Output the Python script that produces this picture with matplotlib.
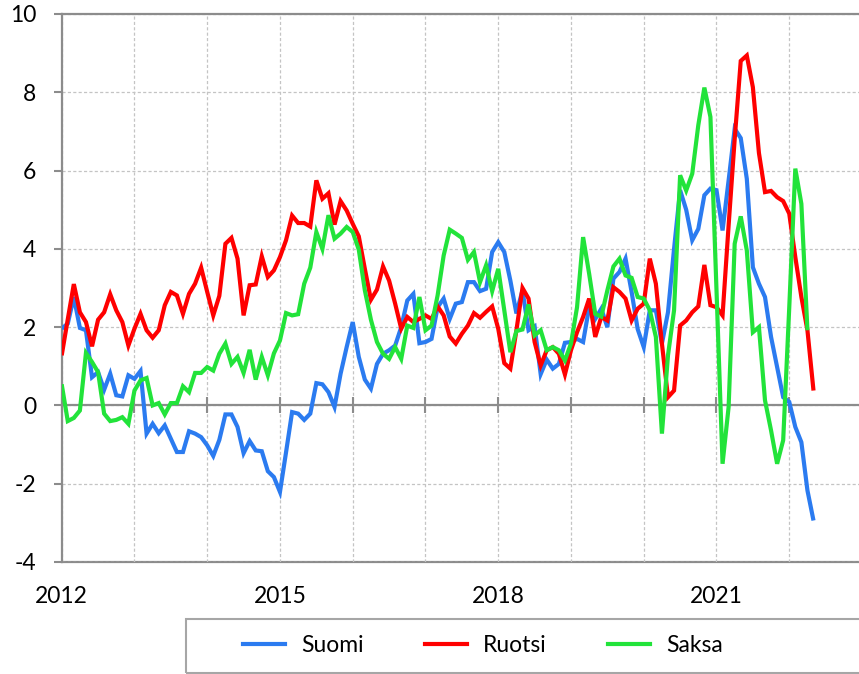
import numpy as np
import matplotlib
matplotlib.use("Agg")
import matplotlib.pyplot as plt
from matplotlib.patches import Rectangle
from matplotlib.lines import Line2D

plt.rcParams['font.family'] = ['Lato', 'DejaVu Sans']
plt.rcParams['axes.unicode_minus'] = False

# Monthly data, starting January 2012
start_year = 2012
suomi = [1.96, 2.09, 2.77, 1.98, 1.92, 0.72, 0.85, 0.40, 0.81, 0.26, 0.23, 0.77,
         0.68, 0.88, -0.72, -0.47, -0.71, -0.51, -0.85, -1.19, -1.19, -0.66, -0.72, -0.81,
         -1.02, -1.29, -0.88, -0.23, -0.23, -0.55, -1.22, -0.91, -1.15, -1.17, -1.68, -1.83,
         -2.21, -1.20, -0.17, -0.21, -0.37, -0.21, 0.57, 0.54, 0.34, -0.04, 0.81, 1.49,
         2.13, 1.24, 0.66, 0.43, 1.06, 1.32, 1.41, 1.53, 2.00, 2.68, 2.85, 1.59,
         1.62, 1.70, 2.51, 2.73, 2.21, 2.60, 2.64, 3.15, 3.15, 2.92, 2.98, 3.92,
         4.17, 3.92, 3.19, 2.35, 2.94, 1.92, 2.02, 0.80, 1.17, 0.94, 1.06, 1.60,
         1.62, 1.70, 1.62, 2.51, 2.21, 2.47, 2.00, 3.24, 3.41, 3.75, 2.90, 1.95,
         1.49, 2.43, 2.43, 1.58, 2.38, 4.00, 5.50, 5.00, 4.22, 4.51, 5.37, 5.54,
         5.50, 4.47, 5.75, 7.07, 6.83, 5.79, 3.53, 3.11, 2.77, 1.75, 0.98, 0.21,
         0.09, -0.55, -0.94, -2.17, -2.94]
ruotsi = [1.28, 2.20, 3.10, 2.38, 2.13, 1.51, 2.19, 2.38, 2.84, 2.43, 2.13, 1.53,
          1.96, 2.34, 1.92, 1.73, 1.92, 2.56, 2.90, 2.81, 2.34, 2.85, 3.11, 3.52,
          2.90, 2.30, 2.80, 4.13, 4.28, 3.75, 2.30, 3.07, 3.09, 3.81, 3.28, 3.45,
          3.79, 4.22, 4.85, 4.66, 4.66, 4.57, 5.75, 5.28, 5.42, 4.62, 5.22, 4.98,
          4.64, 4.32, 3.49, 2.70, 2.96, 3.55, 3.19, 2.60, 1.96, 2.26, 2.13, 2.21,
          2.30, 2.21, 2.53, 2.30, 1.76, 1.58, 1.83, 2.04, 2.36, 2.24, 2.39, 2.53,
          1.96, 1.08, 0.94, 1.92, 3.00, 2.73, 1.62, 1.02, 1.41, 1.49, 1.32, 0.79,
          1.41, 1.87, 2.26, 2.73, 1.75, 2.26, 2.17, 3.02, 2.90, 2.73, 2.17, 2.47,
          2.60, 3.75, 3.11, 1.58, 0.21, 0.38, 2.04, 2.17, 2.38, 2.53, 3.59, 2.56,
          2.51, 2.30, 4.60, 6.80, 8.80, 8.94, 8.13, 6.45, 5.45, 5.48, 5.32, 5.22,
          4.90, 3.79, 2.77, 1.92, 0.38]
saksa = [0.54, -0.40, -0.32, -0.13, 1.34, 1.11, 0.85, -0.21, -0.40, -0.37, -0.30, -0.47,
         0.38, 0.64, 0.70, 0.00, 0.06, -0.23, 0.06, 0.06, 0.49, 0.34, 0.83, 0.83,
         0.98, 0.89, 1.32, 1.58, 1.06, 1.24, 0.83, 1.42, 0.66, 1.24, 0.77, 1.33,
         1.66, 2.36, 2.30, 2.33, 3.11, 3.52, 4.43, 4.00, 4.86, 4.26, 4.39, 4.56,
         4.43, 3.98, 2.94, 2.19, 1.62, 1.32, 1.19, 1.49, 1.19, 2.04, 1.98, 2.77,
         1.92, 2.04, 2.81, 3.83, 4.49, 4.39, 4.28, 3.72, 3.92, 3.15, 3.58, 2.92,
         3.49, 2.43, 1.36, 1.90, 1.94, 2.58, 1.79, 1.92, 1.41, 1.49, 1.41, 1.15,
         1.58, 2.51, 4.30, 3.36, 2.34, 2.27, 2.94, 3.55, 3.75, 3.32, 3.26, 2.77,
         2.73, 2.43, 1.75, -0.72, 1.28, 2.43, 5.88, 5.49, 5.92, 7.16, 8.12, 7.37,
         2.95, -1.49, -0.04, 4.13, 4.83, 3.96, 1.87, 2.00, 0.13, -0.64, -1.49, -0.89,
         2.50, 6.05, 5.15, 1.92]

series_names = ['Suomi', 'Ruotsi', 'Saksa']
series_colors = ['#2B7BF0', '#FF0000', '#22E33A']
year_labels = [2012, 2015, 2018, 2021]
y_ticks = [-4, -2, 0, 2, 4, 6, 8, 10]

def months(n):
    return start_year + np.arange(n) / 12.0

W, H = 859, 674
fig = plt.figure(figsize=(W / 100, H / 100), dpi=100)
left_px, right_px, top_px, bot_px = 61.7, 862.0, 14.0, 562.0
ax = fig.add_axes([left_px / W, 1 - bot_px / H, (right_px - left_px) / W, (bot_px - top_px) / H])

gray = '#8C8C8C'
grid_c = '#C4C4C4'
fs = 16.5

for data, name, col in zip([suomi, ruotsi, saksa], series_names, series_colors):
    ax.plot(months(len(data)), data, color=col, lw=3.0, label=name, zorder=3,
            solid_joinstyle='miter', solid_capstyle='butt')

ax.set_xlim(2012, 2023)
ax.set_ylim(-4, 10)

for s in ['left', 'top', 'bottom']:
    ax.spines[s].set_color(gray)
    ax.spines[s].set_linewidth(1.6)
ax.spines['right'].set_visible(False)
ax.spines['bottom'].set_position(('data', 0))

ax.set_xticks(np.arange(2012, 2024))
ax.tick_params(axis='x', direction='inout', length=11.5, width=1.5, color=gray,
               labelbottom=False)
ax.set_yticks(y_ticks)
ax.set_yticklabels([str(v) for v in y_ticks])
ax.tick_params(axis='y', direction='out', length=5.8, width=1.5, color=gray,
               labelsize=fs, pad=12.5, labelcolor='black')

ax.grid(True, color=grid_c, lw=0.9, linestyle=(0, (2.5, 1.8)), zorder=0)
ax.set_axisbelow(True)

sec = ax.secondary_xaxis(0.0)
sec.set_xticks(year_labels)
sec.set_xticklabels([str(y) for y in year_labels])
sec.tick_params(length=0, pad=17, labelsize=fs)
sec.spines['bottom'].set_color(gray)
sec.spines['bottom'].set_linewidth(1.6)

# legend box
fig.patches.append(Rectangle((186 / W, 1 - 673 / H), (880 - 186) / W, (673 - 619) / H,
                             transform=fig.transFigure, fill=False, edgecolor='#A6A6A6',
                             lw=1.5, clip_on=False))
handle_x = [243, 425, 608]
for name, col, hx in zip(series_names, series_colors, handle_x):
    h = Line2D([], [], color=col, lw=3.0)
    fig.legend([h], [name], loc='center left', bbox_to_anchor=(hx / W, 1 - 646 / H),
               frameon=False, fontsize=fs, handlelength=42 / (fs * 100 / 72),
               handletextpad=0.7, borderpad=0, borderaxespad=0)

fig.savefig('out.png', dpi=100)
